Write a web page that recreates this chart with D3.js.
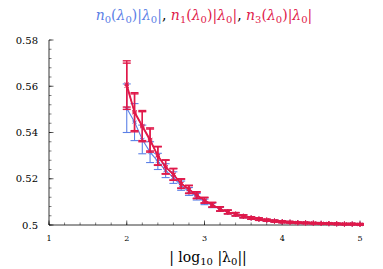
<!DOCTYPE html>
<html>
<head>
<meta charset="utf-8">
<script src="https://cdn.jsdelivr.net/npm/d3@7"></script>
<style>
  body { margin: 0; background: #fff; }
</style>
</head>
<body>
<svg width="383" height="269"></svg>
<script>
var svg = d3.select('svg').attr('font-family', "'DejaVu Serif', 'Liberation Serif', serif");

// x positions |log10|lambda0||
var xs = [2.0, 2.1, 2.2, 2.3, 2.4, 2.5, 2.6, 2.7, 2.8, 2.9, 3.0, 3.1, 3.2, 3.3, 3.4, 3.5,
          3.6, 3.7, 3.8, 3.9, 4.0, 4.1, 4.2, 4.3, 4.4, 4.5, 4.6, 4.7, 4.8, 4.9, 5.0];

// n0 (blue)
var n0 = [0.5505, 0.5445, 0.537, 0.5315, 0.5275, 0.5235, 0.5205, 0.517, 0.5145, 0.5122, 0.5100,
          0.5085, 0.5068, 0.5056, 0.5046, 0.5037, 0.5030, 0.5025, 0.5020, 0.5017, 0.5014,
          0.5012, 0.5010, 0.5009, 0.5008, 0.5007, 0.5006, 0.5005, 0.5004, 0.5004, 0.5003];
var n0err = [0.0105, 0.008, 0.0062, 0.0045, 0.0035, 0.003, 0.0025, 0.002, 0.0017, 0.0014, 0.0012,
             0.001, 0.0009, 0.0008, 0.0007, 0.0006, 0.0005, 0.0005, 0.0004, 0.0004, 0.0004,
             0.0003, 0.0003, 0.0003, 0.0003, 0.0003, 0.0003, 0.0003, 0.0003, 0.0003, 0.0003];

// n1 (red)
var n1 = [0.561, 0.549, 0.543, 0.537, 0.530, 0.5252, 0.522, 0.518, 0.5155, 0.513, 0.5108,
          0.5088, 0.507, 0.5057, 0.5047, 0.5038, 0.5031, 0.5026, 0.5021, 0.5017, 0.5014,
          0.5012, 0.5010, 0.5009, 0.5008, 0.5007, 0.5006, 0.5005, 0.5004, 0.5004, 0.5003];
var n1err = [0.0100, 0.0082, 0.0065, 0.005, 0.004, 0.003, 0.0025, 0.002, 0.0017, 0.0014, 0.0012,
             0.001, 0.0009, 0.0008, 0.0007, 0.0006, 0.0005, 0.0005, 0.0004, 0.0004, 0.0004,
             0.0003, 0.0003, 0.0003, 0.0003, 0.0003, 0.0003, 0.0003, 0.0003, 0.0003, 0.0003];

// n3 (red, overlaps n1)
var n3 = [0.560, 0.5485, 0.5425, 0.5365, 0.5298, 0.525, 0.5218, 0.5178, 0.5153, 0.5128, 0.5106,
          0.5087, 0.5069, 0.5056, 0.5046, 0.5037, 0.5030, 0.5025, 0.5021, 0.5017, 0.5014,
          0.5012, 0.5010, 0.5009, 0.5008, 0.5007, 0.5006, 0.5005, 0.5004, 0.5004, 0.5003];
var n3err = n1err;

var xTicks = [1, 2, 3, 4, 5];
var yTicks = [0.5, 0.52, 0.54, 0.56, 0.58];

var blue = '#5b80e6';
var red = '#e0194a';

var x = d3.scaleLinear().domain([1, 5]).range([49, 360]);
var y = d3.scaleLinear().domain([0.5, 0.58]).range([225, 40]);

// axes (ticks pointing inward)
var xAx = svg.append('g').attr('transform', 'translate(0,' + y(0.5) + ')');
xAx.append('line').attr('x1', x(1)).attr('x2', x(5)).attr('stroke', '#000').attr('stroke-width', 0.8);
xAx.selectAll('.minor').data(d3.range(1, 5.001, 0.2)).enter().append('line')
    .attr('x1', function(d) { return x(d); }).attr('x2', function(d) { return x(d); })
    .attr('y1', 0).attr('y2', -2.5).attr('stroke', '#000').attr('stroke-width', 0.5);
xAx.selectAll('.major').data(xTicks).enter().append('line')
    .attr('x1', function(d) { return x(d); }).attr('x2', function(d) { return x(d); })
    .attr('y1', 0).attr('y2', -4.5).attr('stroke', '#000').attr('stroke-width', 0.6);
xAx.selectAll('text').data(xTicks).enter().append('text')
    .attr('x', function(d) { return x(d); }).attr('y', 16)
    .attr('text-anchor', 'middle').attr('font-size', 8).text(function(d) { return d; });

var yAx = svg.append('g').attr('transform', 'translate(' + x(1) + ',0)');
yAx.append('line').attr('y1', y(0.5)).attr('y2', y(0.58)).attr('stroke', '#000').attr('stroke-width', 0.8);
yAx.selectAll('.minor').data(d3.range(0.5, 0.5801, 0.004)).enter().append('line')
    .attr('y1', function(d) { return y(d); }).attr('y2', function(d) { return y(d); })
    .attr('x1', 0).attr('x2', 2.5).attr('stroke', '#000').attr('stroke-width', 0.5);
yAx.selectAll('.major').data(yTicks).enter().append('line')
    .attr('y1', function(d) { return y(d); }).attr('y2', function(d) { return y(d); })
    .attr('x1', 0).attr('x2', 4.5).attr('stroke', '#000').attr('stroke-width', 0.6);
yAx.selectAll('text').data(yTicks).enter().append('text')
    .attr('x', -11).attr('y', function(d) { return y(d) + 3.5; })
    .attr('text-anchor', 'end').attr('font-size', 10)
    .text(function(d) { return d === 0.5 ? '0.5' : d3.format('.2f')(d); });

// series
function drawSeries(vals, errs, color, lw) {
    var pts = xs.map(function(d, i) { return {x: d, v: vals[i], e: errs[i]}; });
    var g = svg.append('g');
    g.append('path').datum(pts)
        .attr('fill', 'none').attr('stroke', color).attr('stroke-width', lw)
        .attr('d', d3.line().x(function(d) { return x(d.x); }).y(function(d) { return y(d.v); }));
    var eb = g.selectAll('.eb').data(pts).enter().append('g')
        .attr('stroke', color).attr('stroke-width', lw);
    eb.append('line')
        .attr('x1', function(d) { return x(d.x); }).attr('x2', function(d) { return x(d.x); })
        .attr('y1', function(d) { return y(d.v - d.e); }).attr('y2', function(d) { return y(d.v + d.e); });
    [1, -1].forEach(function(s) {
        eb.append('line')
            .attr('x1', function(d) { return x(d.x) - 4; }).attr('x2', function(d) { return x(d.x) + 4; })
            .attr('y1', function(d) { return y(d.v + s * d.e); }).attr('y2', function(d) { return y(d.v + s * d.e); });
    });
    g.selectAll('.mk').data(pts).enter().append('path')
        .attr('transform', function(d) { return 'translate(' + x(d.x) + ',' + y(d.v) + ')'; })
        .attr('d', d3.symbol().type(d3.symbolAsterisk).size(18))
        .attr('fill', 'none').attr('stroke', color).attr('stroke-width', 1);
}
drawSeries(n0, n0err, blue, 1.1);
drawSeries(n3, n3err, red, 1.4);
drawSeries(n1, n1err, red, 1.4);

// x-axis title
var xt = svg.append('text').attr('x', 208).attr('y', 262).attr('text-anchor', 'middle').attr('font-size', 14);
xt.append('tspan').text('| log');
xt.append('tspan').attr('font-size', 10).attr('dy', 3).text('10');
xt.append('tspan').attr('dy', -3).text(' |λ');
xt.append('tspan').attr('font-size', 10).attr('dy', 3).text('0');
xt.append('tspan').attr('dy', -3).text('||');

// title
var title = svg.append('text').attr('x', 204).attr('y', 20).attr('text-anchor', 'middle').attr('font-size', 14);
function term(idx, color) {
    title.append('tspan').attr('fill', color).attr('font-style', 'italic').text('n');
    title.append('tspan').attr('fill', color).attr('font-size', 10).attr('dy', 3).text(idx);
    title.append('tspan').attr('fill', color).attr('dy', -3).text('(');
    title.append('tspan').attr('fill', color).attr('font-style', 'italic').text('λ');
    title.append('tspan').attr('fill', color).attr('font-size', 10).attr('dy', 3).text('0');
    title.append('tspan').attr('fill', color).attr('dy', -3).text(')|');
    title.append('tspan').attr('fill', color).attr('font-style', 'italic').text('λ');
    title.append('tspan').attr('fill', color).attr('font-size', 10).attr('dy', 3).text('0');
    title.append('tspan').attr('fill', color).attr('dy', -3).text('|');
}
term('0', blue);
title.append('tspan').attr('fill', '#000').text(', ');
term('1', red);
title.append('tspan').attr('fill', '#000').text(', ');
term('3', red);
</script>
</body>
</html>
